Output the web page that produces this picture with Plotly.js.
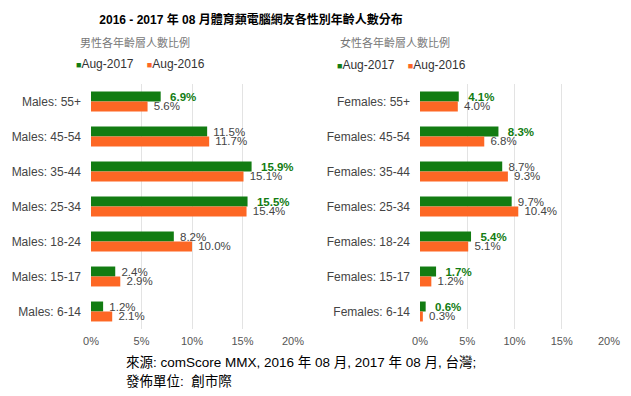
<!DOCTYPE html>
<html>
<head>
<meta charset="utf-8">
<script src="https://cdn.plot.ly/plotly-3.0.1.min.js"></script>
<style>html,body{margin:0;padding:0;background:#fff;}#chart{width:631px;height:396px;}</style>
</head>
<body>
<div id="chart"></div>
<script>
const maleCats = ['Males: 55+','Males: 45-54','Males: 35-44','Males: 25-34','Males: 18-24','Males: 15-17','Males: 6-14'];
const male2017 = [6.9, 11.5, 15.9, 15.5, 8.2, 2.4, 1.2];
const male2016 = [5.6, 11.7, 15.1, 15.4, 10.0, 2.9, 2.1];
const femaleCats = ['Females: 55+','Females: 45-54','Females: 35-44','Females: 25-34','Females: 18-24','Females: 15-17','Females: 6-14'];
const female2017 = [4.1, 8.3, 8.7, 9.7, 5.4, 1.7, 0.6];
const female2016 = [4.0, 6.8, 9.3, 10.4, 5.1, 1.2, 0.3];
const seriesNames = ['Aug-2017', 'Aug-2016'];
const xTicks = [0, 5, 10, 15, 20];
const mainTitle = '2016 - 2017 年 08 月體育類電腦網友各性別年齡人數分布';
const subTitles = ['男性各年齡層人數比例', '女性各年齡層人數比例'];
const footer = ['來源: comScore MMX, 2016 年 08 月, 2017 年 08 月, 台灣;', '發佈單位:  創市際'];

const GREEN = '#127c12', ORANGE = '#fd6724', GRAY = '#444444';
const FONT = '"Liberation Sans", Arial, "Noto Sans CJK TC", sans-serif';
const PAD = '\u00a0';

function labels(vals, other, highlight) {
  return vals.map((v, i) => (highlight && v > other[i]) ? PAD + PAD + '<b>' + v.toFixed(1) + '%</b>' : PAD + v.toFixed(1) + '%');
}
function labelColors(vals, other, highlight) {
  return vals.map((v, i) => (highlight && v > other[i]) ? GREEN : GRAY);
}
function mk(cats, vals, other, name, color, hl, xa, ya) {
  return {
    type: 'bar', orientation: 'h', y: cats, x: vals, name: name,
    marker: {color: color}, xaxis: xa, yaxis: ya,
    text: labels(vals, other, hl), textposition: 'outside', constraintext: 'none',
    cliponaxis: false,
    textfont: {family: FONT, size: 11.5, color: labelColors(vals, other, hl)},
    showlegend: false, hoverinfo: 'skip'
  };
}
const data = [
  mk(maleCats, male2017, male2016, seriesNames[0], GREEN, true, 'x', 'y'),
  mk(maleCats, male2016, male2017, seriesNames[1], ORANGE, false, 'x', 'y'),
  mk(femaleCats, female2017, female2016, seriesNames[0], GREEN, true, 'x2', 'y2'),
  mk(femaleCats, female2016, female2017, seriesNames[1], ORANGE, false, 'x2', 'y2')
];

const H = 396, W = 631;
const yDom = [1 - 329 / H, 1 - 84 / H];
function xax(dom, anchor) {
  return {domain: dom, anchor: anchor, range: [0, 20], tickvals: xTicks, ticktext: xTicks.map(t => t + '%'),
    showgrid: true, gridcolor: '#e3e3e3', gridwidth: 1, zeroline: false, showline: false,
    ticks: '', ticklabelstandoff: 4, tickfont: {family: FONT, size: 11, color: '#555'}, fixedrange: true};
}
function yax(dom, anchor) {
  return {domain: dom, anchor: anchor, autorange: 'reversed', type: 'category', showgrid: false, zeroline: false,
    showline: false, ticks: '', ticklabelstandoff: 9, tickfont: {family: FONT, size: 12, color: GRAY}, fixedrange: true};
}
function legendAnn(xpx, ypx) {
  return {xref: 'paper', yref: 'paper', x: xpx / W, y: 1 - ypx / H, xanchor: 'left', yanchor: 'middle', showarrow: false,
    font: {family: FONT, size: 12, color: '#333'},
    text: '<span style="color:' + GREEN + ';font-size:9px">■</span>' + seriesNames[0] +
          '\u00a0\u00a0\u00a0 <span style="color:' + ORANGE + ';font-size:9px">■</span>' + seriesNames[1]};
}
const layout = {
  width: W, height: H, margin: {l: 0, r: 0, t: 0, b: 0},
  paper_bgcolor: '#fff', plot_bgcolor: '#fff',
  barmode: 'group', bargap: 0.43, bargroupgap: 0,
  font: {family: FONT},
  title: {text: '<b>' + mainTitle + '</b>', x: 251 / W, xanchor: 'center', y: 1 - 20 / H, yanchor: 'middle',
    font: {family: FONT, size: 12, color: '#000'}},
  xaxis: xax([91 / W, 293 / W], 'y'),
  yaxis: yax(yDom, 'x'),
  xaxis2: xax([420 / W, 609 / W], 'y2'),
  yaxis2: yax(yDom, 'x2'),
  annotations: [
    {xref: 'paper', yref: 'paper', x: 78 / W, y: 1 - 42 / H, xanchor: 'left', yanchor: 'middle', showarrow: false,
      text: subTitles[0], font: {family: FONT, size: 11, color: '#777'}},
    {xref: 'paper', yref: 'paper', x: 338 / W, y: 1 - 42 / H, xanchor: 'left', yanchor: 'middle', showarrow: false,
      text: subTitles[1], font: {family: FONT, size: 11, color: '#777'}},
    legendAnn(74, 64),
    legendAnn(335, 65),
    {xref: 'paper', yref: 'paper', x: 124 / W, y: 1 - 362 / H, xanchor: 'left', yanchor: 'middle', showarrow: false,
      text: footer[0], font: {family: FONT, size: 13.5, color: '#000'}},
    {xref: 'paper', yref: 'paper', x: 124 / W, y: 1 - 381 / H, xanchor: 'left', yanchor: 'middle', showarrow: false,
      text: footer[1], font: {family: FONT, size: 13.5, color: '#000'}}
  ]
};
Plotly.newPlot('chart', data, layout, {displayModeBar: false, staticPlot: true});
</script>
</body>
</html>
